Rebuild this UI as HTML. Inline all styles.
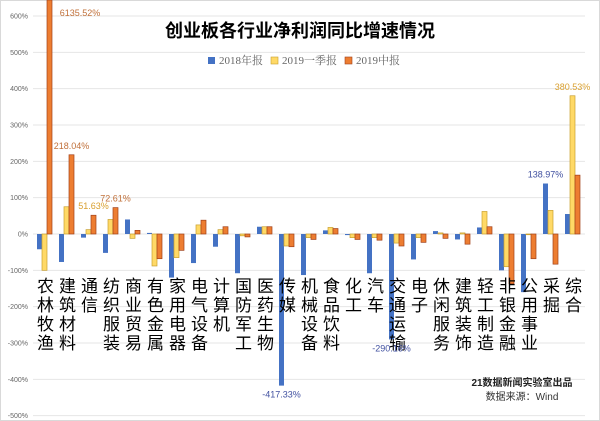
<!DOCTYPE html>
<html><head><meta charset="utf-8"><style>
body{margin:0;background:#fff;}
svg{display:block;font-family:"Liberation Sans","Noto Sans CJK SC",sans-serif;}
</style></head><body>
<svg id="chart" width="600" height="421">
<rect x="0.5" y="0.5" width="599" height="420" fill="#fff" stroke="#d9d9d9"/>
<g id="grid"></g>
<g id="yt"></g>
<g id="bars"></g>
<g id="xl"></g>
<g id="vl"></g>
<text x="300" y="37" text-anchor="middle" font-size="18" font-weight="bold" fill="#000">创业板各行业净利润同比增速情况</text>
<g font-family="Liberation Serif,Noto Serif CJK SC,serif" font-size="11" fill="#666">
<g><rect x="208" y="57" width="7" height="7" fill="#4472c4"/><text x="219" y="64">2018年报</text></g>
<g><rect x="271" y="57" width="7" height="7" fill="#ffd966" stroke="#c9a030" stroke-width="0.6"/><text x="282" y="64">2019一季报</text></g>
<g><rect x="345" y="57" width="7" height="7" fill="#ed7d31" stroke="#a0401a" stroke-width="0.6"/><text x="356" y="64">2019中报</text></g>
</g>
<text x="522" y="386" text-anchor="middle" font-size="10" font-weight="bold" fill="#222">21数据新闻实验室出品</text>
<text x="522" y="400" text-anchor="middle" font-size="10" fill="#333">数据来源：Wind</text>
</svg>
<script>
const categories=["农林牧渔","建筑材料","通信","纺织服装","商业贸易","有色金属","家用电器","电气设备","计算机","国防军工","医药生物","传媒","机械设备","食品饮料","化工","汽车","交通运输","电子","休闲服务","建筑装饰","轻工制造","非银金融","公用事业","采掘","综合"];
const s2018=[-42,-77,-10,-52,40,3,-120,-80,-35,-108,20,-417.33,-113,10,-3,-108,-290.16,-70,8,-15,18,-100,-160,138.97,55];
const s2019q1=[-100,75,12,40,-12,-88,-65,25,12,-5,20,-33,-10,18,-10,-10,-25,-10,3,3,62,-90,-2,65,380.53];
const s2019h1=[6135.52,218.04,51.63,72.61,10,-68,-45,38,20,-8,20,-35,-15,15,-15,-17,-33,-23,-12,-28,20,-137,-68,-83,162];
const yTicks=[600,500,400,300,200,100,0,-100,-200,-300,-400,-500];
const ns="http://www.w3.org/2000/svg";
const X0=33.5,CW=22,Y0=234,PY=0.3633;
const y=v=>Y0-v*PY;
const cx=i=>X0+CW*i+CW/2;
function mk(t,a,p){const e=document.createElementNS(ns,t);for(const k in a)e.setAttribute(k,a[k]);p.appendChild(e);return e;}
const grid=document.getElementById('grid'),yt=document.getElementById('yt');
yTicks.forEach(v=>{
 const l=mk('line',{x1:33,x2:585,y1:y(v),y2:y(v),stroke:'#e6e6e6','stroke-width':1},grid);
 
 
 const t=mk('text',{x:28,y:y(v)+2.5,'text-anchor':'end','font-size':7,fill:'#666'},yt);
 t.textContent=v+'%';
 
 
});
const bars=document.getElementById('bars');
const series=[[s2018,'#4472c4','none'],[s2019q1,'#ffd966','#c9a030'],[s2019h1,'#ed7d31','#a0401a']];
categories.forEach((c,i)=>{
 series.forEach((s,j)=>{
  const v=s[0][i];
  let top=Math.min(y(v),Y0),bot=Math.max(y(v),Y0);
  if(top<0)top=0;
  const r=mk('rect',{x:cx(i)-7.5+5*j,y:top,width:5,height:Math.max(bot-top,0.5),fill:s[1],stroke:s[2],'stroke-width':0.7},bars);
  
  
 });
 const t=mk('text',{x:cx(i)+1,'font-size':17,fill:'#000','text-anchor':'middle'},document.getElementById('xl'));
 
 
 [...c].forEach((ch,k)=>{const ts=mk('tspan',{x:cx(i)+1,y:292+k*19},t);ts.textContent=ch;});
});
const vl=document.getElementById('vl');
const labels=[[0,s2019h1,2,'#c0703a',80,16],[1,s2019h1,2,'#c0703a',null,null],[2,s2019h1,2,'#d9a030',null,null],[3,s2019h1,2,'#c0703a',null,null],[24,s2019q1,1,'#d9a030',null,null],[23,s2018,0,'#4050a0',null,null],[11,s2018,0,'#4050a0',null,null],[16,s2018,0,'#4050a0',null,null]];
labels.forEach(([i,s,j,col,fx,fy])=>{
 const v=s[i];
 const bx=cx(i)-5+5*j;
 const py=fy!=null?fy:(v>=0?y(v)-6:y(v)+12);
 const t=mk('text',{x:fx!=null?fx:bx,y:py,'text-anchor':'middle','font-size':9,fill:col},vl);
 t.textContent=v.toFixed(2)+'%';
 
 
});
</script>
</body></html>
